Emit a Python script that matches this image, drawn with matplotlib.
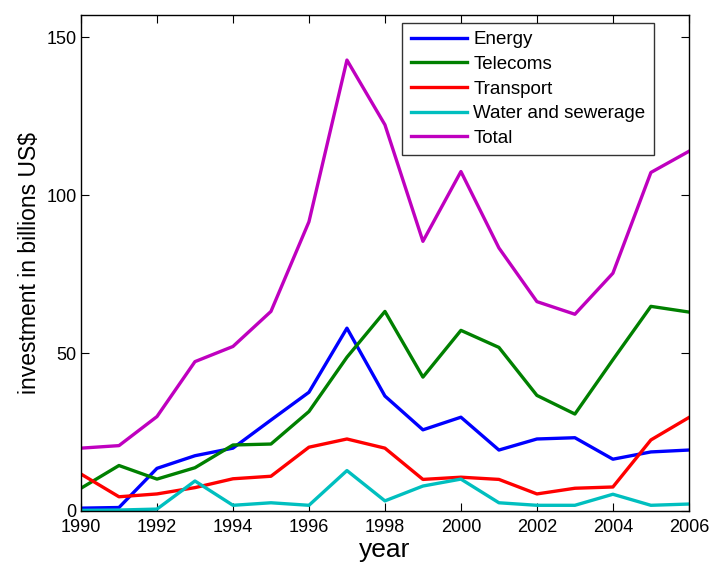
import matplotlib.pyplot as plt
import numpy as np

plt.rcParams['font.family'] = ['Liberation Sans', 'DejaVu Sans']

years = np.arange(1990, 2007)
energy = [0.9, 1.1, 13.5, 17.5, 19.9, 28.8, 37.6, 57.9, 36.4, 25.7, 29.7, 19.3, 22.8, 23.2, 16.4, 18.7, 19.3]
telecoms = [7.2, 14.4, 10.1, 13.7, 20.9, 21.2, 31.5, 48.7, 63.2, 42.4, 57.2, 51.8, 36.6, 30.7, 47.9, 64.8, 63.0]
transport = [11.7, 4.5, 5.4, 7.4, 10.2, 11.0, 20.2, 22.8, 19.9, 10.0, 10.7, 10.0, 5.4, 7.2, 7.6, 22.5, 29.6]
water = [0.2, 0.3, 0.6, 9.5, 1.8, 2.6, 1.8, 12.8, 3.2, 7.9, 10.1, 2.6, 1.8, 1.8, 5.3, 1.8, 2.2]
total = [19.9, 20.7, 29.9, 47.3, 52.1, 63.2, 91.6, 142.8, 122.3, 85.4, 107.5, 83.3, 66.3, 62.3, 75.3, 107.2, 113.9]

series = [
    ("Energy", energy, (0, 0, 1)),
    ("Telecoms", telecoms, (0, 0.5, 0)),
    ("Transport", transport, (1, 0, 0)),
    ("Water and sewerage", water, (0, 0.75, 0.75)),
    ("Total", total, (0.75, 0, 0.75)),
]

fig = plt.figure(figsize=(7.11, 5.64), dpi=100)
ax = fig.add_axes([0.1139, 0.094, 0.855, 0.879])

for name, vals, col in series:
    ax.plot(years, vals, color=col, lw=2.4, label=name)

ax.set_xlim(1990, 2006)
ax.set_ylim(0, 157)
ax.set_xticks(np.arange(1990, 2007, 2))
ax.set_yticks([0, 50, 100, 150])
ax.tick_params(direction='in', top=True, right=True, labelsize=13, length=6, width=0.8)
ax.tick_params(axis='y', pad=3)
ax.tick_params(axis='x', pad=6)
for sp in ax.spines.values():
    sp.set_linewidth(1.0)

ax.set_xlabel("year", fontsize=19, labelpad=1)
ax.set_ylabel("investment in billions US$", fontsize=16.5, labelpad=4)

leg = ax.legend(loc='upper right', bbox_to_anchor=(654 / 711, 1 - 22.7 / 564),
                bbox_transform=fig.transFigure, fontsize=13.5,
                frameon=True, fancybox=False, edgecolor='black', handlelength=3.0,
                labelspacing=0.4, borderpad=0.45, handletextpad=0.35, borderaxespad=0)
leg.get_frame().set_linewidth(1.0)

fig.savefig("out.png", dpi=100)
